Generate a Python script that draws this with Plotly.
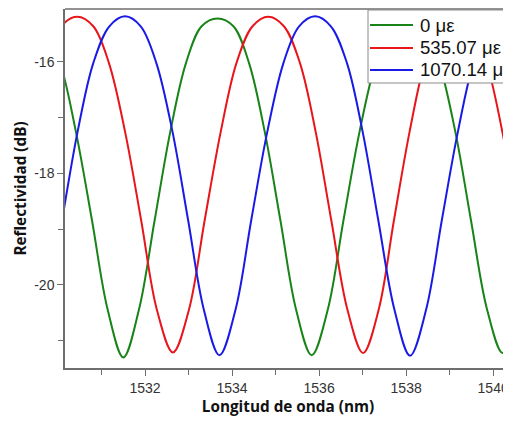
import plotly.graph_objects as go

# ---- data (wavelength nm, reflectivity dB) ----
green_wl = [1529.69, 1530.05, 1530.41, 1530.78, 1531.14, 1531.50,
            1531.86, 1532.22, 1532.58, 1532.94, 1533.30, 1533.665,
            1534.03, 1534.39, 1534.75, 1535.11, 1535.47, 1535.83,
            1536.20, 1536.56, 1536.93, 1537.30, 1537.66, 1538.03,
            1538.40, 1538.76, 1539.13, 1539.49, 1539.86, 1540.22,
            1540.58, 1540.95]
green_db = [-15.36, -16.02, -17.25, -18.84, -20.44, -21.30,
            -20.44, -18.84, -17.25, -16.02, -15.36, -15.22,
            -15.36, -16.02, -17.25, -18.84, -20.44, -21.26,
            -20.44, -18.84, -17.25, -16.02, -15.36, -15.20,
            -15.36, -16.02, -17.25, -18.84, -20.44, -21.22,
            -20.44, -18.84]

red_wl = [1529.71, 1530.07, 1530.44,
          1530.81, 1531.17, 1531.54, 1531.91, 1532.27, 1532.64,
          1533.01, 1533.37, 1533.74, 1534.10, 1534.47, 1534.83,
          1535.19, 1535.56, 1535.92, 1536.28, 1536.65, 1537.01,
          1537.37, 1537.72, 1538.08, 1538.43, 1538.79, 1539.14,
          1539.50, 1539.85, 1540.21, 1540.56, 1540.92]
red_db = [-16.02, -15.36, -15.19,
          -15.36, -16.02, -17.25, -18.84, -20.44, -21.21,
          -20.44, -18.84, -17.25, -16.02, -15.36, -15.19,
          -15.36, -16.02, -17.25, -18.84, -20.44, -21.22,
          -20.44, -18.84, -17.25, -16.02, -15.36, -15.20,
          -15.36, -16.02, -17.25, -18.84, -20.44]

blue_wl = [1529.72, 1530.09, 1530.45, 1530.81, 1531.18, 1531.54,
           1531.90, 1532.26, 1532.63, 1532.99, 1533.35, 1533.71,
           1534.08, 1534.44, 1534.81, 1535.18, 1535.54, 1535.91,
           1536.27, 1536.64, 1537.00, 1537.36, 1537.73, 1538.09,
           1538.46, 1538.82, 1539.19, 1539.55, 1539.92, 1540.28,
           1540.65]
blue_db = [-20.44, -18.84, -17.25, -16.02, -15.36, -15.18,
           -15.36, -16.02, -17.25, -18.84, -20.44, -21.26,
           -20.44, -18.84, -17.25, -16.02, -15.36, -15.18,
           -15.36, -16.02, -17.25, -18.84, -20.44, -21.27,
           -20.44, -18.84, -17.25, -16.02, -15.36, -15.20,
           -15.36]

series_names = ["0 \u03bc\u03b5", "535.07 \u03bc\u03b5", "1070.14 \u03bc\u03b5"]
series_colors = ["#188418", "#e8161b", "#1a1ae6"]

x_major = [1532, 1534, 1536, 1538, 1540]
x_minor = [1531, 1533, 1535, 1537, 1539]
y_major = [-20, -18, -16]
y_minor = [-21, -19, -17]

fig = go.Figure()
for wl, db, name, col in zip([green_wl, red_wl, blue_wl],
                             [green_db, red_db, blue_db],
                             series_names, series_colors):
    fig.add_trace(go.Scatter(x=wl, y=db, mode="lines", name=name, showlegend=False,
                             line=dict(color=col, width=2, shape="spline", smoothing=1.0)))

axis_col = "#6e6e6e"
tick_font = dict(family="Liberation Sans Narrow, Arial Narrow, Liberation Sans, sans-serif",
                 size=14, color="#333333")
title_font = dict(family="Open Sans, sans-serif", size=15.3, color="#111111")

# legend box drawn in paper coordinates (it runs off the right edge, like the reference)
leg_x0, leg_y0, leg_y1 = 0.6794, 0.7939, 0.9972
row_y = [0.9554, 0.8914, 0.8301]
line_x0, line_x1, text_x = 0.6839, 0.7803, 0.7915

shapes = [dict(type="line", xref="paper", yref="paper", x0=0, x1=1, y0=1, y1=1,
               line=dict(color=axis_col, width=1.5)),
          dict(type="rect", xref="paper", yref="paper", x0=leg_x0, x1=1.3, y0=leg_y0, y1=leg_y1,
               fillcolor="white", line=dict(color="#8a8a8a", width=1), layer="above")]
annotations = []
for name, col, yy in zip(series_names, series_colors, row_y):
    shapes.append(dict(type="line", xref="paper", yref="paper", x0=line_x0, x1=line_x1,
                       y0=yy, y1=yy, line=dict(color=col, width=2), layer="above"))
    annotations.append(dict(xref="paper", yref="paper", x=text_x, y=yy, text=name,
                            showarrow=False, xanchor="left", yanchor="middle",
                            font=dict(family="Liberation Sans, Arial, sans-serif",
                                      size=18.6, color="#111111")))

fig.update_layout(
    width=503, height=413,
    margin=dict(l=57, r=0, t=1, b=53, autoexpand=False),
    paper_bgcolor="white", plot_bgcolor="white",
    font=dict(family="Liberation Sans, Arial, sans-serif", size=13, color="#333333"),
    showlegend=False,
    xaxis=dict(range=[1530.16, 1540.41], tickvals=x_major,
               showgrid=False, zeroline=False, showline=True, linecolor=axis_col, linewidth=1.5,
               ticks="outside", ticklen=6, tickwidth=1.2, tickcolor=axis_col, tickfont=tick_font,
               minor=dict(tickvals=x_minor, ticks="outside",
                          ticklen=5, tickwidth=1.2, tickcolor=axis_col, showgrid=False),
               title=dict(text="<b>Longitud de onda (nm)</b>", standoff=5, font=title_font)),
    yaxis=dict(range=[-21.49, -15.05], tickvals=y_major, ticktext=[str(v) for v in y_major],
               showgrid=False, zeroline=False, showline=True, linecolor=axis_col, linewidth=1.5,
               ticks="outside", ticklen=6, tickwidth=1.2, tickcolor=axis_col, tickfont=tick_font,
               minor=dict(tickvals=y_minor, ticks="outside",
                          ticklen=5, tickwidth=1.2, tickcolor=axis_col, showgrid=False),
               title=dict(text="<b>Reflectividad (dB)</b>", standoff=4, font=title_font)),
    shapes=shapes,
    annotations=annotations,
)

fig.write_html("out.html")
